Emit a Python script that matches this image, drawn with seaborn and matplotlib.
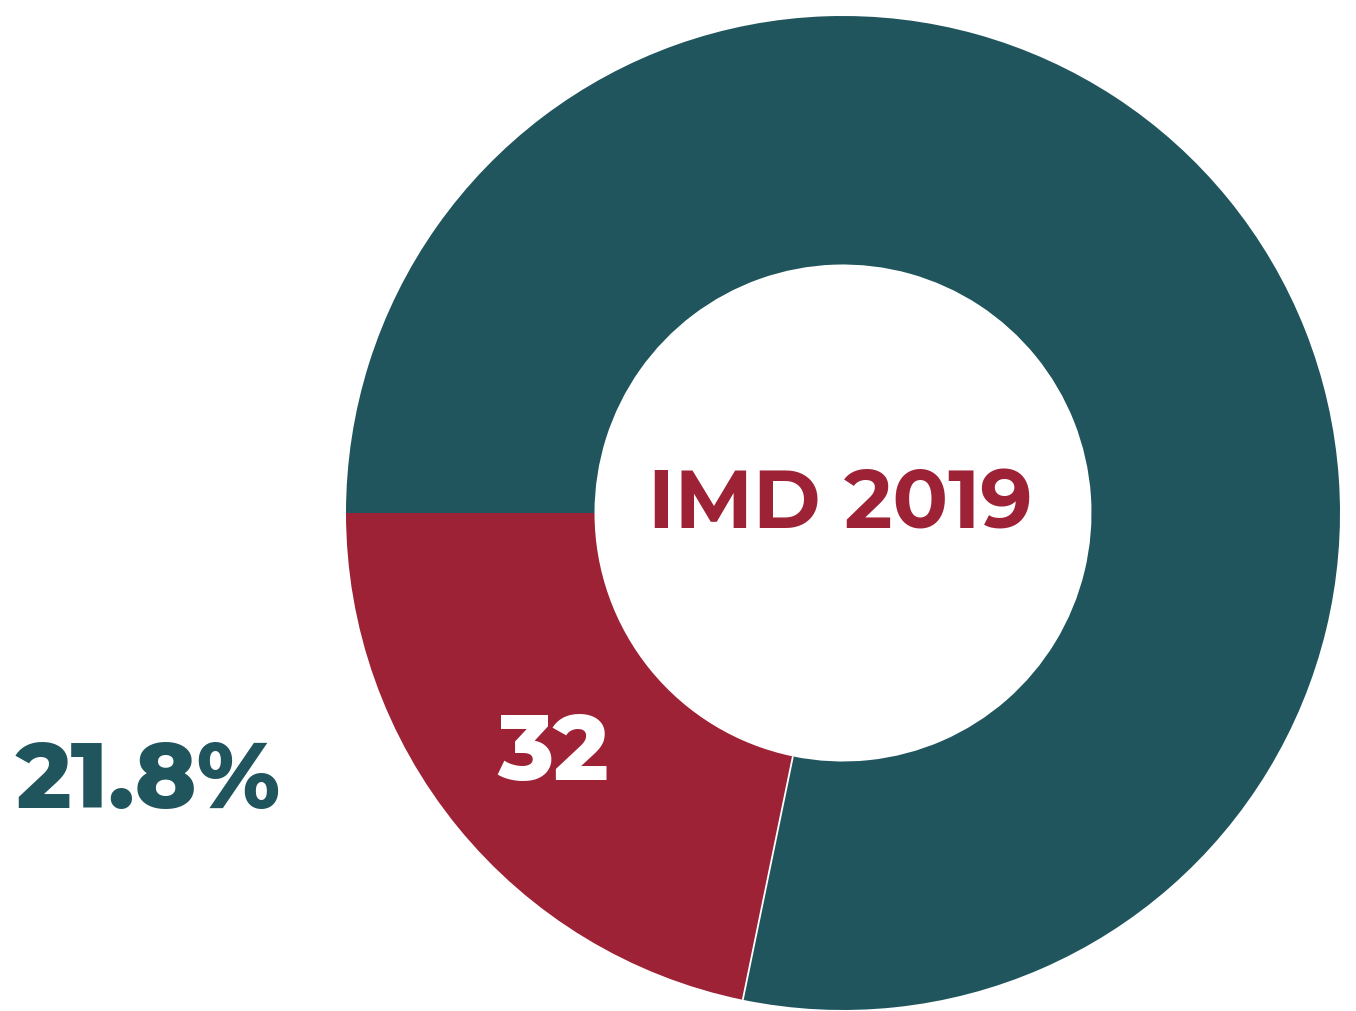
import matplotlib
matplotlib.use("Agg")
import matplotlib.pyplot as plt
from matplotlib import font_manager
import numpy as np
import seaborn as sns

sns.set_theme(style="white")
plt.rcParams['font.family'] = ['Montserrat Alternates', 'Lato', 'DejaVu Sans']

labels = ["IMD 2019 bottom", "Other"]
values = [32, 115]
colors = ["#9E2236", "#20555E"]
center_label = "IMD 2019"
count_label = "32"
pct_label = "21.8%"


def montserrat(weight):
    fp = font_manager.FontProperties(family="Montserrat Alternates", weight=weight)
    try:
        from fontTools.ttLib import TTFont
        from fontTools.varLib import instancer
        src = [f.fname for f in font_manager.fontManager.ttflist
               if f.fname.endswith("Montserrat[wght].ttf")][0]
        inst = instancer.instantiateVariableFont(TTFont(src), {"wght": weight})
        name = f"MontserratInst{weight}.ttf"
        inst.save(name)
        fp = font_manager.FontProperties(fname=name)
    except Exception:
        pass
    return fp


fp_bold = montserrat(700)
fp_xbold = montserrat(800)

fig = plt.figure(figsize=(13.56, 10.12), dpi=100)
ax = fig.add_axes([0, 0, 1, 1])
R = 497.0
cx, cy = 843.0, 514.0

wedges, _ = ax.pie(values, colors=colors, startangle=180, counterclock=True, radius=1.0,
                   wedgeprops=dict(width=0.5, linewidth=0))
# thin white separator at the end of the first wedge
th = np.deg2rad(wedges[0].theta2)
ax.plot([0.5 * np.cos(th), 1.0 * np.cos(th)], [0.5 * np.sin(th), 1.0 * np.sin(th)],
        color="white", lw=1.3, solid_capstyle="butt")

ax.set_xlim(-cx / R, (1356 - cx) / R)
ax.set_ylim(-(1012 - cy) / R, cy / R)
ax.set_aspect("auto")
ax.axis("off")


def px(x, y):
    return (x - cx) / R, (cy - y) / R


ax.text(*px(840, 506), center_label, color="#9E2236", fontproperties=fp_bold, fontsize=59,
        ha="center", va="center")
ax.text(*px(553, 755), count_label, color="white", fontproperties=fp_xbold, fontsize=67,
        ha="center", va="center")
ax.text(*px(148.5, 783), pct_label, color="#20555E", fontproperties=fp_xbold, fontsize=67,
        ha="center", va="center")

fig.savefig("out.png", dpi=100, facecolor="white")
